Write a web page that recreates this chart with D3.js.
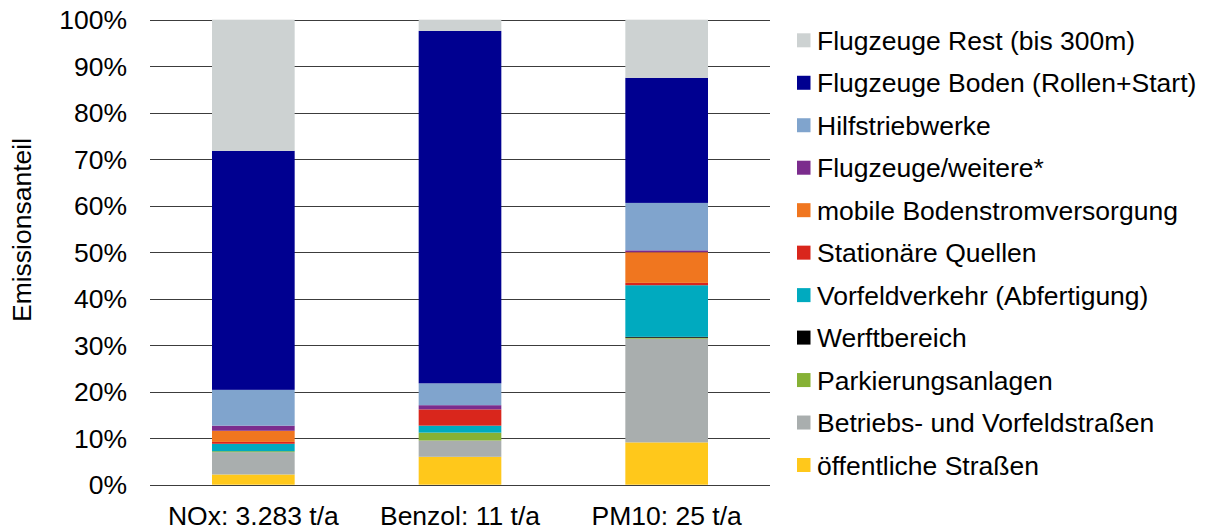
<!DOCTYPE html>
<html>
<head>
<meta charset="utf-8">
<script src="https://cdn.jsdelivr.net/npm/d3@7"></script>
<style>
body{margin:0;background:#fff;}
text{font-family:"Liberation Sans",Arial,sans-serif;fill:#000;}
</style>
</head>
<body>
<div id="chart"></div>
<script>
var w = 1207;
var h = 531;

// categories (x axis)
var categories = ["NOx: 3.283 t/a", "Benzol: 11 t/a", "PM10: 25 t/a"];
// series, bottom of stack first
var seriesNames = ["öffentliche Straßen", "Betriebs- und Vorfeldstraßen", "Parkierungsanlagen",
  "Werftbereich", "Vorfeldverkehr (Abfertigung)", "Stationäre Quellen", "mobile Bodenstromversorgung",
  "Flugzeuge/weitere*", "Hilfstriebwerke", "Flugzeuge Boden (Rollen+Start)", "Flugzeuge Rest (bis 300m)"];
var seriesColors = ["#FFC81B", "#A9AEAE", "#86B135", "#000000", "#00AABF", "#D9261C", "#F0761F",
  "#7B2C8D", "#80A4CD", "#000090", "#CDD2D2"];
// percent shares per category, same order as seriesNames
var nox    = [2.2, 4.8, 0.2, 0.0, 1.6, 0.4, 2.4, 1.1, 7.7, 51.4, 28.2];
var benzol = [6.0, 3.5, 1.7, 0.0, 1.5, 3.5, 0.0, 0.9, 4.7, 75.8, 2.4];
var pm10   = [9.1, 22.3, 0.2, 0.2, 11.1, 0.5, 6.6, 0.4, 10.2, 26.9, 12.5];
var yTicks = [0, 10, 20, 30, 40, 50, 60, 70, 80, 90, 100];

var plotLeft = 150, plotRight = 770, plotTop = 19.7, plotBottom = 484.7;
var fs = "26.5px";

var table = categories.map(function(c, i){
  var row = {cat: c};
  var vals = [nox, benzol, pm10][i];
  seriesNames.forEach(function(s, j){ row[s] = vals[j]; });
  return row;
});

var svg = d3.select("#chart").append("svg")
  .attr("width", w)
  .attr("height", h);

var xScale = d3.scaleBand()
  .domain(categories)
  .range([plotLeft, plotRight])
  .paddingInner(0.6)
  .paddingOuter(0.3);

var yScale = d3.scaleLinear()
  .domain([0, 100])
  .range([plotBottom, plotTop]);

// gridlines
svg.append("g").selectAll("line")
  .data(yTicks)
  .enter().append("line")
  .attr("x1", plotLeft)
  .attr("x2", plotRight)
  .attr("y1", function(d){ return Math.round(yScale(d)) + 0.5; })
  .attr("y2", function(d){ return Math.round(yScale(d)) + 0.5; })
  .attr("stroke", "#3c3c3c")
  .attr("stroke-width", 1.2);

// y tick labels
svg.append("g").selectAll("text")
  .data(yTicks)
  .enter().append("text")
  .attr("x", 127)
  .attr("y", function(d){ return yScale(d); })
  .attr("dy", "0.36em")
  .style("text-anchor", "end")
  .style("font-size", fs)
  .text(function(d){ return d + "%"; });

// y title
svg.append("text")
  .attr("transform", "translate(31,230) rotate(-90)")
  .style("text-anchor", "middle")
  .style("font-size", fs)
  .text("Emissionsanteil");

// stacked bars
var stacked = d3.stack().keys(seriesNames)(table);
svg.append("g").selectAll("g")
  .data(stacked)
  .enter().append("g")
  .attr("fill", function(d, i){ return seriesColors[i]; })
  .selectAll("rect")
  .data(function(d){ return d; })
  .enter().append("rect")
  .attr("x", function(d){ return xScale(d.data.cat); })
  .attr("width", xScale.bandwidth())
  .attr("y", function(d){ return yScale(d[1]); })
  .attr("height", function(d){ return yScale(d[0]) - yScale(d[1]); });

// x labels
svg.append("g").selectAll("text")
  .data(categories)
  .enter().append("text")
  .attr("x", function(d){ return xScale(d) + xScale.bandwidth()/2; })
  .attr("y", 525)
  .style("text-anchor", "middle")
  .style("font-size", fs)
  .text(function(d){ return d; });

// legend, top entry = top of stack
var legendItems = seriesNames.slice().reverse();
var legendColors = seriesColors.slice().reverse();
var leg = svg.append("g").selectAll("g")
  .data(legendItems)
  .enter().append("g")
  .attr("transform", function(d, i){ return "translate(797," + (40.3 + i*42.47) + ")"; });
leg.append("rect")
  .attr("x", 0)
  .attr("y", -7)
  .attr("width", 13.5)
  .attr("height", 14)
  .attr("fill", function(d, i){ return legendColors[i]; });
leg.append("text")
  .attr("x", 20)
  .attr("y", 0)
  .attr("dy", "0.36em")
  .style("font-size", fs)
  .text(function(d){ return d; });
</script>
</body>
</html>
